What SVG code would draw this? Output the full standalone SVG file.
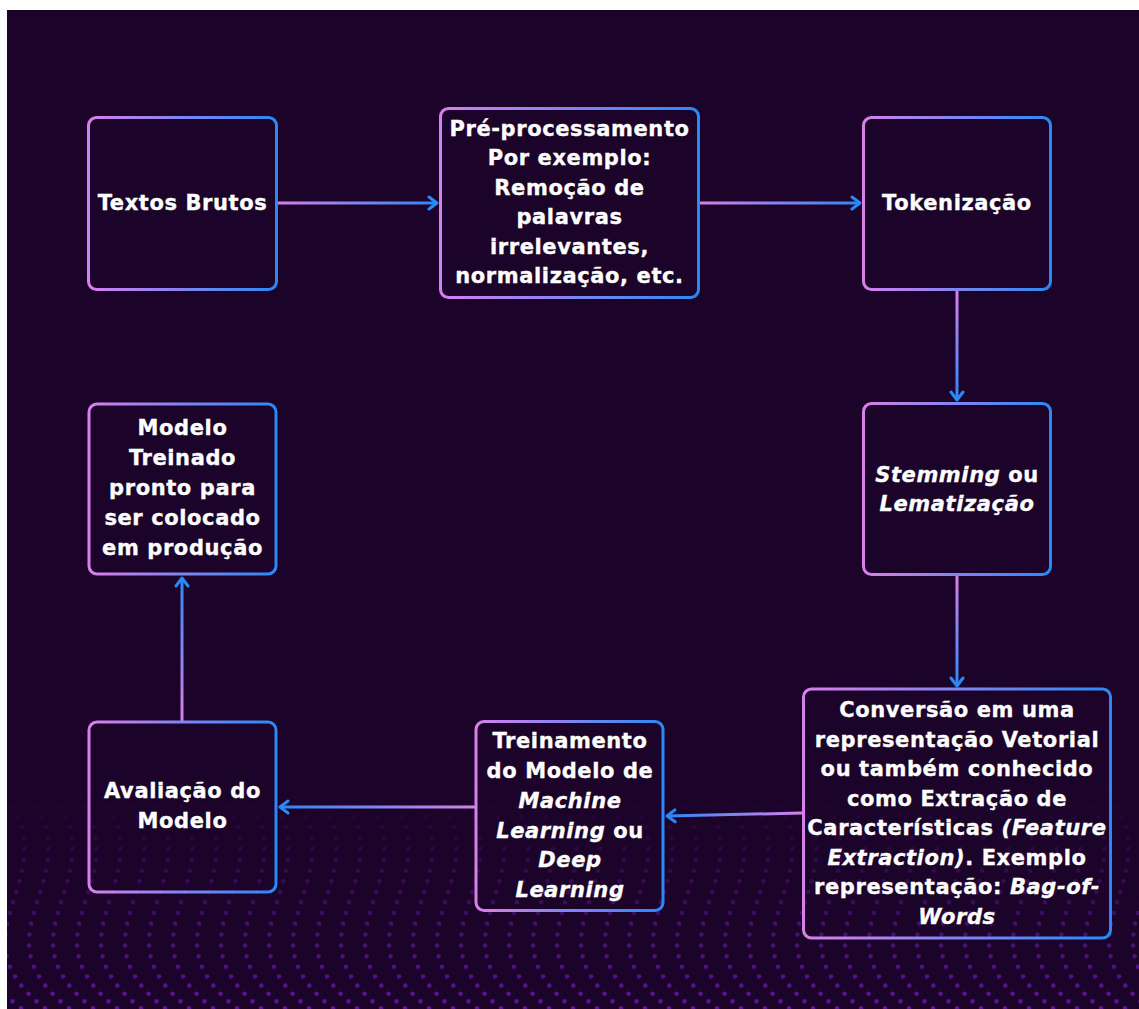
<svg xmlns="http://www.w3.org/2000/svg" width="1139" height="1009" viewBox="0 0 1139 1009">
<defs>
<style>
.node rect{fill:none;stroke:url(#nodeGrad);stroke-width:3}
.node text{font-family:"DejaVu Sans","Liberation Sans",sans-serif;font-weight:700;font-size:21px;letter-spacing:0.6px;fill:#ffffff;stroke:#ffffff;stroke-width:0.35px;text-anchor:middle}
.it{font-style:italic}
.conn line{stroke-width:3;fill:none;marker-end:url(#ah)}
</style>
<clipPath id="bgClip"><rect x="7" y="10" width="1132" height="999"/></clipPath>
<linearGradient id="nodeGrad" x1="0" y1="0" x2="1" y2="0">
<stop offset="0" stop-color="#d880ea"/>
<stop offset="1" stop-color="#2b88f7"/>
</linearGradient>
<linearGradient id="gA" gradientUnits="userSpaceOnUse" x1="277" y1="0" x2="437" y2="0"><stop offset="0" stop-color="#d880ea"/><stop offset="1" stop-color="#2b88f7"/></linearGradient>
<linearGradient id="gB" gradientUnits="userSpaceOnUse" x1="700" y1="0" x2="860" y2="0"><stop offset="0" stop-color="#d880ea"/><stop offset="1" stop-color="#2b88f7"/></linearGradient>
<linearGradient id="gC" gradientUnits="userSpaceOnUse" x1="0" y1="290" x2="0" y2="400"><stop offset="0" stop-color="#d880ea"/><stop offset="1" stop-color="#2b88f7"/></linearGradient>
<linearGradient id="gD" gradientUnits="userSpaceOnUse" x1="0" y1="576" x2="0" y2="686"><stop offset="0" stop-color="#d880ea"/><stop offset="1" stop-color="#2b88f7"/></linearGradient>
<linearGradient id="gE" gradientUnits="userSpaceOnUse" x1="802" y1="0" x2="667" y2="0"><stop offset="0" stop-color="#d880ea"/><stop offset="1" stop-color="#2b88f7"/></linearGradient>
<linearGradient id="gF" gradientUnits="userSpaceOnUse" x1="475" y1="0" x2="280" y2="0"><stop offset="0" stop-color="#d880ea"/><stop offset="1" stop-color="#2b88f7"/></linearGradient>
<linearGradient id="gG" gradientUnits="userSpaceOnUse" x1="0" y1="721" x2="0" y2="578"><stop offset="0" stop-color="#d880ea"/><stop offset="1" stop-color="#2b88f7"/></linearGradient>
<linearGradient id="dotFade" gradientUnits="userSpaceOnUse" x1="0" y1="780" x2="0" y2="1009">
<stop offset="0" stop-color="#1c0329"/>
<stop offset="0.35" stop-color="#2f0849"/>
<stop offset="1" stop-color="#5e149c"/>
</linearGradient>
<marker id="ah" viewBox="-10 -8 12 16" refX="0" refY="0" markerWidth="12" markerHeight="16" markerUnits="userSpaceOnUse" orient="auto">
<path d="M-8,-6 L0,0 L-8,6" fill="none" stroke="#2b88f7" stroke-width="3" stroke-linecap="round" stroke-linejoin="round"/>
</marker>
</defs>
<rect x="0" y="0" width="1139" height="1009" fill="#ffffff"/>
<rect x="7" y="10" width="1132" height="999" fill="#1c0329"/>
<g id="background-dots" clip-path="url(#bgClip)">
<path fill="none" stroke="url(#dotFade)" stroke-width="4.5" stroke-linecap="round" stroke-dasharray="0 11" d="M-150,780 c90,100 -60,150 60,235 M-126,780 c90,100 -60,150 60,235 M-102,780 c90,100 -60,150 60,235 M-78,780 c90,100 -60,150 60,235 M-54,780 c90,100 -60,150 60,235 M-30,780 c90,100 -60,150 60,235 M-6,780 c90,100 -60,150 60,235 M18,780 c90,100 -60,150 60,235 M42,780 c90,100 -60,150 60,235 M66,780 c90,100 -60,150 60,235 M90,780 c90,100 -60,150 60,235 M114,780 c90,100 -60,150 60,235 M138,780 c90,100 -60,150 60,235 M162,780 c90,100 -60,150 60,235 M186,780 c90,100 -60,150 60,235 M210,780 c90,100 -60,150 60,235 M234,780 c90,100 -60,150 60,235 M258,780 c90,100 -60,150 60,235 M282,780 c90,100 -60,150 60,235 M306,780 c90,100 -60,150 60,235 M330,780 c90,100 -60,150 60,235 M354,780 c90,100 -60,150 60,235 M378,780 c90,100 -60,150 60,235 M402,780 c90,100 -60,150 60,235 M426,780 c90,100 -60,150 60,235 M450,780 c90,100 -60,150 60,235 M474,780 c90,100 -60,150 60,235 M498,780 c90,100 -60,150 60,235 M522,780 c90,100 -60,150 60,235 M546,780 c90,100 -60,150 60,235 M570,780 c90,100 -60,150 60,235 M594,780 c90,100 -60,150 60,235 M618,780 c90,100 -60,150 60,235 M642,780 c90,100 -60,150 60,235 M666,780 c90,100 -60,150 60,235 M690,780 c90,100 -60,150 60,235 M714,780 c90,100 -60,150 60,235 M738,780 c90,100 -60,150 60,235 M762,780 c90,100 -60,150 60,235 M786,780 c90,100 -60,150 60,235 M810,780 c90,100 -60,150 60,235 M834,780 c90,100 -60,150 60,235 M858,780 c90,100 -60,150 60,235 M882,780 c90,100 -60,150 60,235 M906,780 c90,100 -60,150 60,235 M930,780 c90,100 -60,150 60,235 M954,780 c90,100 -60,150 60,235 M978,780 c90,100 -60,150 60,235 M1002,780 c90,100 -60,150 60,235 M1026,780 c90,100 -60,150 60,235 M1050,780 c90,100 -60,150 60,235 M1074,780 c90,100 -60,150 60,235 M1098,780 c90,100 -60,150 60,235 M1122,780 c90,100 -60,150 60,235"/>
</g>
<g id="connectors" class="conn">
<line x1="277" y1="203" x2="437" y2="203" stroke="url(#gA)"/>
<line x1="700" y1="203" x2="860" y2="203" stroke="url(#gB)"/>
<line x1="957" y1="290" x2="957" y2="400" stroke="url(#gC)"/>
<line x1="957" y1="576" x2="957" y2="686" stroke="url(#gD)"/>
<line x1="802" y1="813" x2="667" y2="816" stroke="url(#gE)"/>
<line x1="475" y1="807" x2="280" y2="807" stroke="url(#gF)"/>
<line x1="182" y1="721" x2="182" y2="578" stroke="url(#gG)"/>
</g>
<g id="node-textos-brutos" class="node">
<rect x="88.5" y="117.5" width="188" height="172" rx="8"/>
<text x="182.5" y="210">Textos Brutos</text>
</g>
<g id="node-pre-processamento" class="node">
<rect x="440.5" y="108.5" width="258" height="189" rx="8"/>
<text x="569.5" y="135.5">Pré-processamento</text>
<text x="569.5" y="165">Por exemplo:</text>
<text x="569.5" y="194.5">Remoção de</text>
<text x="569.5" y="224">palavras</text>
<text x="569.5" y="253.5">irrelevantes,</text>
<text x="569.5" y="283">normalização, etc.</text>
</g>
<g id="node-tokenizacao" class="node">
<rect x="863.5" y="117.5" width="187" height="172" rx="8"/>
<text x="957" y="210">Tokenização</text>
</g>
<g id="node-stemming" class="node">
<rect x="863.5" y="403.5" width="187" height="171" rx="8"/>
<text x="957" y="482"><tspan class="it">Stemming</tspan> ou</text>
<text x="957" y="511"><tspan class="it">Lematização</tspan></text>
</g>
<g id="node-conversao" class="node">
<rect x="803.5" y="689" width="307" height="249" rx="8"/>
<text x="957" y="717">Conversão em uma</text>
<text x="957" y="746.5">representação Vetorial</text>
<text x="957" y="776">ou também conhecido</text>
<text x="957" y="805.5">como Extração de</text>
<text x="957" y="835">Características <tspan class="it">(Feature</tspan></text>
<text x="957" y="864.5"><tspan class="it">Extraction)</tspan>. Exemplo</text>
<text x="957" y="894">representação: <tspan class="it">Bag-of-</tspan></text>
<text x="957" y="923.5"><tspan class="it">Words</tspan></text>
</g>
<g id="node-treinamento" class="node">
<rect x="476" y="721.5" width="187" height="189" rx="8"/>
<text x="570" y="748">Treinamento</text>
<text x="570" y="778">do Modelo de</text>
<text x="570" y="808"><tspan class="it">Machine</tspan></text>
<text x="570" y="838"><tspan class="it">Learning</tspan> ou</text>
<text x="570" y="867"><tspan class="it">Deep</tspan></text>
<text x="570" y="897"><tspan class="it">Learning</tspan></text>
</g>
<g id="node-avaliacao" class="node">
<rect x="89" y="722" width="187" height="170" rx="8"/>
<text x="182.5" y="798">Avaliação do</text>
<text x="182.5" y="827.5">Modelo</text>
</g>
<g id="node-modelo-treinado" class="node">
<rect x="89" y="404" width="187" height="170" rx="8"/>
<text x="182.5" y="435">Modelo</text>
<text x="182.5" y="465">Treinado</text>
<text x="182.5" y="495">pronto para</text>
<text x="182.5" y="525">ser colocado</text>
<text x="182.5" y="555">em produção</text>
</g>
</svg>
